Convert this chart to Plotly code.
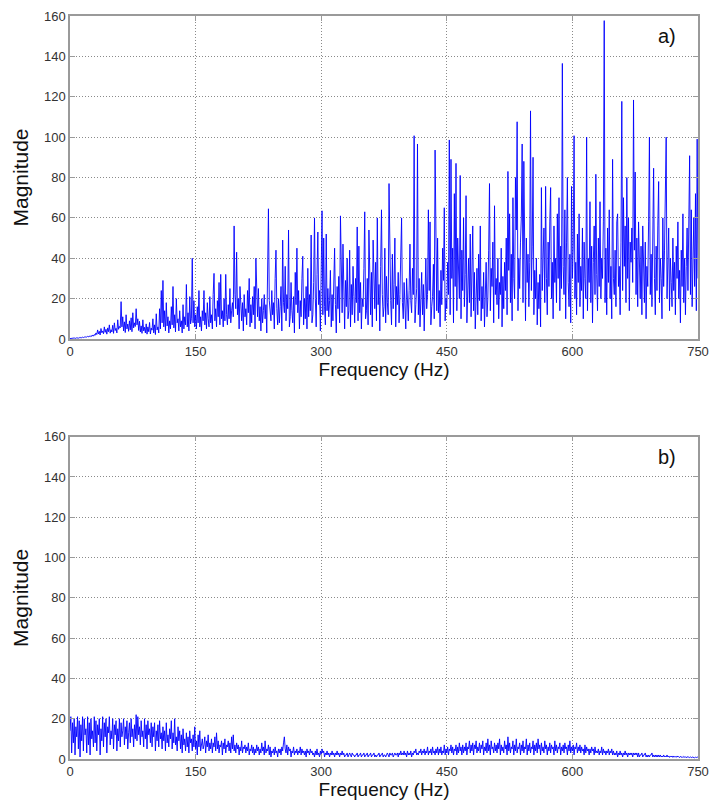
import plotly.graph_objects as go

# Spectrum a) magnitude, one value per 1 Hz bin (0..750 Hz)
top_mag = [
    0.2,0.3,0.2,0.4,0.3,0.5,0.4,0.3,0.6,0.5,
    0.4,0.7,0.5,0.8,0.6,0.9,0.7,1.0,0.8,1.2,
    0.9,1.3,1.0,1.5,1.1,1.7,1.3,2.0,1.4,2.2,
    1.8,3.0,2.2,4.5,2.5,3.8,2.0,5.2,3.1,4.0,
    2.6,6.0,3.3,4.8,2.4,5.5,3.6,7.0,2.9,4.6,
    3.5,6.8,2.8,8.0,4.2,5.3,3.0,9.5,4.8,6.2,
    5.5,18.5,6.0,11.0,4.0,8.5,3.2,12.0,5.0,7.4,
    3.8,9.0,4.5,10.5,3.6,13.0,5.5,8.0,6.2,15.0,
    7.0,10.0,4.2,8.8,3.5,6.5,2.8,9.5,4.0,5.8,
    3.0,7.5,2.4,6.0,3.6,8.2,2.5,5.4,4.4,10.0,
    3.0,7.0,2.2,12.5,4.5,6.0,3.0,15.0,5.0,24.0,
    8.0,29.0,6.0,14.0,4.0,18.0,6.5,11.0,3.0,9.0,
    5.0,16.0,7.0,26.0,5.5,12.0,3.5,20.0,8.0,10.0,
    4.0,14.0,6.0,9.0,3.0,17.0,5.0,11.0,7.0,27.0,
    6.0,13.0,4.0,21.0,7.5,10.0,40.0,8.0,19.0,6.0,
    12.0,5.0,16.0,8.0,24.0,6.0,11.0,4.0,14.0,9.0,
    24.0,7.0,13.0,5.0,18.0,10.0,6.0,21.0,8.0,12.0,
    5.0,22.0,32.5,9.0,15.0,6.0,19.0,11.0,28.0,7.0,
    32.0,10.0,14.0,6.0,20.0,9.0,32.0,12.0,7.0,17.0,
    10.0,25.0,8.0,14.0,18.0,11.0,56.0,22.0,15.0,43.0,
    12,20,5,26,14,9,18,4,22,11,
    15,7,24,13,30,6,17,8,21,12,
    26,5,40,18,11,25,9,16,4,20,
    8,14,22,10,17,3,44,64.5,19,14,
    9,24,12,18,5,30,44,15,7,20,
    8,16,26,4,49,18,13,36,9,22,
    15,54,6,11,28,14,8,21,3,33,
    17,45,13,24,5,19,11,30,41,7,
    20,10,26,5,35,11,22,14,51.5,8,
    12,28,60,20,6,32,53,17,24,4,
    38,63.5,12,50,16,7,52,14,25,11,
    19,34,6,22,9,28,45,17,3,26,
    15,31,8,61,18,13,47,22,5,29,
    16,40,10,14,44,6,27,12,36,21,
    8,30,18,55.5,9,46,13,28,5,20,
    16,35,63,10,14,30,7,54,25,12,
    33,6,49,23,15,38,9,60,17,27,
    4,36,64,22,11,16,45,8,31,18,
    12,77,30,19,7,42,15,27,50,6,
    26,17,33,8,22,39,60,18,10,28,
    20,5,30,15,9,24,47,19,13,35,
    22,100.7,8,17,25,96.6,12,30,6,20,
    33,12,27,4,18,40,15,22,64,24,
    58,7,16,21,37,10,93.6,26,14,50,
    13,24,6,34,17,45,29,65,9,20,
    15,38,22,98.6,12,89,30,45,8,72,
    26,87,14,50,35,20,81,10,44,24,
    60,16,32,71,8,25,40,18,52,11,
    27,56,14,33,5,23,35,12,42,19,
    56,9,26,15,33,6,24,38,11,20,
    44,77,14,35,26,48,8,66,22,30,
    17,40,10,28,22,45,6,31,15,38,
    24,50,12,83,34,62,18,42,9,70,
    30,20,80,54,107.6,14,40,25,48,60,
    96.6,18,88,32,9,50,28,42,16,38,
    113,24,46,90,12,34,20,40,7,28,
    15,32,6,75,24,40,55,18,75.6,30,
    12,48,26,58,75,20,38,10,56,28,
    40,18,62,30,70,14,46,25,136.5,36,
    22,64,10,48,80,28,16,42,8,75.6,
    30,46,100.7,20,38,12,52,28,62,16,
    36,24,55,10,48,30,20,100,14,40,
    28,68,18,46,8,38,56,22,81.6,32,
    14,50,26,68,20,40,30,58,157.7,18,
    45,12,55,28,64,20,36,10,89,30,
    22,44,16,58,62,26,36,12,48,117.7,
    24,70,36,56,18,80,30,60,14,48,
    38,55,28,118.4,44,82.7,22,50,16,58,
    34,20,46,12,56,30,18,48,10,36,
    26,58,100,22,42,16,62,84.6,30,12,
    46,24,56,78,18,40,30,10,60,26,
    44,72,100,20,36,55,14,40,28,16,
    50,24,38,12,46,30,58,20,34,8,
    44,26,62,18,40,12,36,55,24,48,
    90.8,22,64,16,38,60,26,72,14,99,
    30,
]

# Spectrum b) magnitude, one value per 1 Hz bin (0..750 Hz)
bottom_mag = [
    14,21,3,18,8,20,2,16,11,21,
    5,19,1,17,9,21,4,20,12,15,
    3,21,7,18,2,20,10,14,6,21,
    8,19,4,17,12,20,2,15,9,21,
    6,18,11,20,3,16,13,21,7,14,
    10,20,5,17,12,19,4,15,9,20,
    6,18,11,14,20,7,16,10,19,5,
    13,18,8,20,11,15,6,17,10,22,
    9,21,12,16,7,19,11,14,6,20,
    10,17,5,19,12,15,8,18,6,16,
    11,18,4,14,9,17,6,19,10,13,
    5,16,9,14,4,18,8,12,6,15,
    10,19,5,13,8,20,7,11,4,16,
    9,14,5,12,3,15,7,10,4,13,
    6,11,3,14,8,10,4,12,6,16,
    5,9,2,12,6,14,4,8,10,5,
    7,11,3,9,6,12,4,8,5,10,
    3,8,6,11,4,13,5,9,3,7,
    6,9,2,8,5,10,3,7,6,9,
    4,8,3,11,5,12,4,7,3,8,
    5,7,2,6,4,9,3,6,5,7,
    3,6,4,8,2,5,4,7,3,6,
    2,5,3,7,4,6,2,5,3,8,
    4,6,2,9,3,5,4,7,2,6,
    1,4,3,5,2,6,3,4,1,5,
    3,5,2,6,4,8,11,5,3,7,
    2,6,4,5,1,4,3,6,2,4,
    3,5,2,4,3,6,2,5,3,4,
    2,4,1,5,3,4,2,5,3,4,
    2,3,1,4,2,5,2,3,1,4,
    2,5,3,4,1,3,2,4,2,3,
    1,3,2,4,2,3,1,3,2,4,
    2,3,1,3,2,4,2,3,1,2,
    2,3,1,2,3,2,1,3,2,2,
    1,2,2,3,1,2,2,3,1,2,
    2,3,1,2,2,3,1,2,2,3,
    1,2,2,3,1,2,1,2,2,3,
    1,2,2,3,1,2,2,1,2,3,
    2,1,3,2,2,3,1,2,3,2,
    2,3,1,3,2,4,2,3,2,4,
    2,3,1,4,2,3,2,4,1,3,
    2,4,3,5,2,3,2,4,3,5,
    2,4,3,5,2,4,3,6,2,4,
    3,5,2,6,3,4,2,5,3,6,
    2,5,3,6,2,4,3,7,2,5,
    3,6,2,5,4,7,3,6,2,5,
    4,7,2,6,3,8,4,6,2,7,
    3,6,4,8,2,6,5,9,3,7,
    4,8,2,7,5,9,3,6,4,8,
    3,7,5,9,2,6,4,8,3,10,
    4,7,2,9,5,6,3,8,4,7,
    3,8,5,10,2,7,4,6,3,9,
    5,7,2,11,4,8,3,6,5,9,
    2,7,4,10,3,6,5,8,2,7,
    4,9,3,6,5,10,2,7,4,8,
    3,6,5,9,2,7,4,8,3,10,
    5,7,2,8,4,6,3,9,5,7,
    2,6,4,8,3,7,5,6,2,9,
    4,7,3,6,5,8,2,6,4,7,
    3,8,5,6,2,7,4,9,3,6,
    4,7,2,6,5,8,3,6,4,7,
    3,6,4,5,2,7,3,6,4,5,
    2,5,3,6,4,5,2,6,3,4,
    3,5,2,4,3,6,2,5,3,4,
    2,4,3,5,2,4,3,5,2,4,
    2,3,2,4,1,3,2,4,2,3,
    1,3,2,4,2,3,1,3,2,3,
    2,3,1,3,2,3,2,3,1,3,
    1,2,2,3,1,2,2,3,1,2,
    1,2,1,2,2,3,1,2,1,2,
    1,2,1,2,1,2,1,1.5,1,2,
    1,1.5,1,2,1,1.5,0.8,1.5,1,1.5,
    0.8,1.5,1,1.2,0.8,1.5,1,1.2,0.7,1.3,
    0.8,1.2,0.7,1.3,0.9,1.1,0.6,1.2,0.8,1.0,
    0.7,1.1,0.6,1.0,0.8,1.0,0.6,0.9,0.7,1.0,
    0.8,
]

freq_top = list(range(len(top_mag)))        # 1 Hz bins
freq_bottom = list(range(len(bottom_mag)))  # 1 Hz bins

x_ticks = [0, 150, 300, 450, 600, 750]
y_ticks = [0, 20, 40, 60, 80, 100, 120, 140, 160]
panel_labels = ["a)", "b)"]

FONT = "Arial, Liberation Sans, Helvetica, sans-serif"
LINE_BLUE = "#0000ff"

fig = go.Figure()
fig.add_trace(go.Scatter(x=freq_top, y=top_mag, mode="lines",
                         line=dict(color=LINE_BLUE, width=0.9),
                         xaxis="x", yaxis="y", showlegend=False))
fig.add_trace(go.Scatter(x=freq_bottom, y=bottom_mag, mode="lines",
                         line=dict(color=LINE_BLUE, width=0.9),
                         xaxis="x2", yaxis="y2", showlegend=False))

common_x = dict(range=[0, 750], tickvals=x_ticks, ticktext=[str(v) for v in x_ticks],
                showgrid=True, gridcolor="#8a8a8a", griddash="1px,2px", gridwidth=1,
                showline=True, linecolor="#9a9a9a", linewidth=1.5, mirror="ticks",
                ticks="inside", ticklen=5, tickcolor="#9a9a9a",
                zeroline=False, automargin=False,
                tickfont=dict(family=FONT, size=13, color="#333333"),
                title=dict(text="Frequency (Hz)", standoff=4,
                           font=dict(family=FONT, size=19, color="#111111")))
common_y = dict(range=[0, 160], tickvals=y_ticks, ticktext=[str(v) for v in y_ticks],
                showgrid=True, gridcolor="#8a8a8a", griddash="1px,2px", gridwidth=1,
                showline=True, linecolor="#9a9a9a", linewidth=1.5, mirror="ticks",
                ticks="inside", ticklen=5, tickcolor="#9a9a9a",
                zeroline=False, automargin=False,
                tickfont=dict(family=FONT, size=13, color="#333333"),
                title=dict(text="Magnitude", standoff=10,
                           font=dict(family=FONT, size=21, color="#111111")))

H_PLOT = 801 - 16 - 42
top_dom = [(759 - 339) / H_PLOT, 1.0]
bot_dom = [0.0, (759 - 436.7) / H_PLOT]

fig.update_layout(
    width=709, height=801,
    margin=dict(l=70, r=11, t=16, b=42),
    paper_bgcolor="white", plot_bgcolor="white",
    font=dict(family=FONT),
    xaxis=dict(common_x, anchor="y", domain=[0, 1]),
    yaxis=dict(common_y, anchor="x", domain=top_dom),
    xaxis2=dict(common_x, anchor="y2", domain=[0, 1]),
    yaxis2=dict(common_y, anchor="x2", domain=bot_dom),
    annotations=[
        dict(text=panel_labels[0], x=713, y=150, xref="x", yref="y", showarrow=False,
             font=dict(family=FONT, size=20, color="#111111")),
        dict(text=panel_labels[1], x=713, y=150, xref="x2", yref="y2", showarrow=False,
             font=dict(family=FONT, size=20, color="#111111")),
    ],
)

fig.write_html("out.html")
